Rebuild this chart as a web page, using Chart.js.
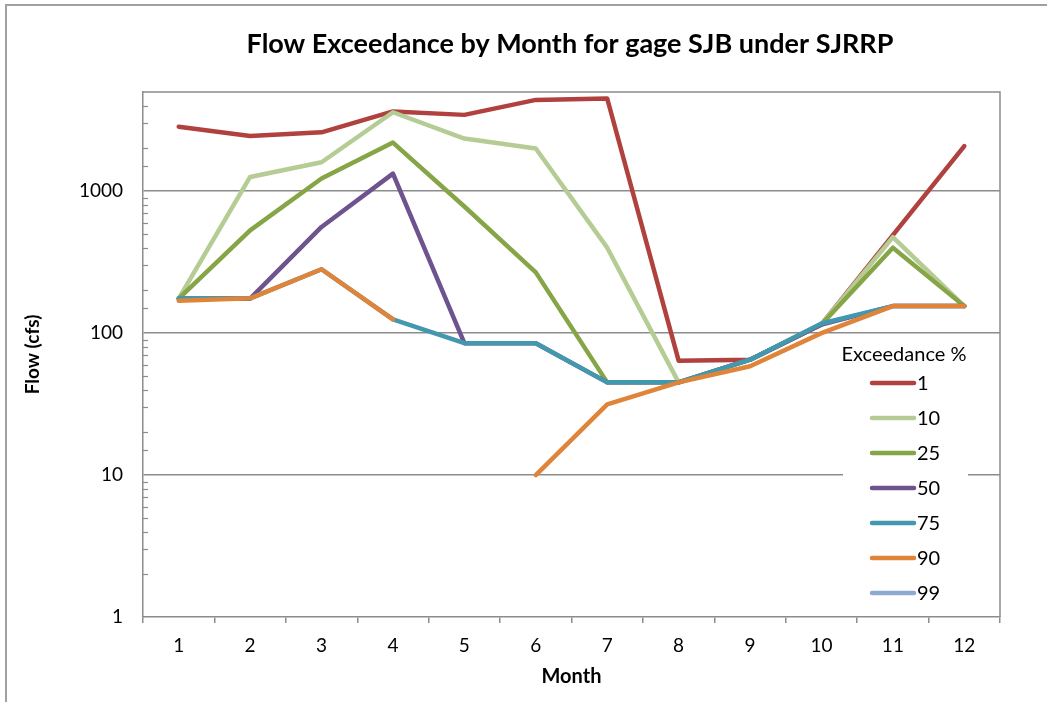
<!DOCTYPE html>
<html>
<head>
<meta charset="utf-8">
<script src="https://cdn.jsdelivr.net/npm/chart.js@4"></script>
<style>
  html, body { margin: 0; padding: 0; background: #ffffff; overflow: hidden; }
  #frame { position: absolute; left: 5px; top: 4px; width: 1200px; height: 900px;
           border-top: 2px solid #a0a0a0; border-left: 2px solid #a0a0a0; }
  #c { position: absolute; left: 0; top: 0; }
</style>
</head>
<body>
<div id="frame"></div>
<canvas id="c" width="1047" height="702"></canvas>
<script>
// ---- data ----
const months = ['1','2','3','4','5','6','7','8','9','10','11','12'];
const seriesNames = ['1','10','25','50','75','90','99'];
const exc1  = [2850, 2450, 2600, 3650, 3450, 4400, 4500, 64, 65, 115, 490, 2080];
const exc10 = [175, 1260, 1600, 3600, 2350, 2000, 400, 45, 65, 115, 475, 155];
const exc25 = [175, 530, 1230, 2200, 780, 268, 45, 45, 65, 115, 400, 155];
const exc50 = [175, 175, 560, 1330, 85, 85, 45, 45, 65, 115, 155, 155];
const exc75 = [176, 176, 282, 125, 85, 85, 45, 45, 65, 117, 155, 155];
const exc90 = [169, 176, 282, 125, null, 10, 31.5, 45, 58.5, 100, 155, 155];
const exc99 = [null, null, null, null, null, null, null, null, null, null, null, null];
const yTickLabels = [1, 10, 100, 1000];

const colors = ['#B0413E', '#B5CC95', '#86A546', '#6E538F', '#4298AF', '#E0843A', '#8FAAD0'];
const allSeries = [exc1, exc10, exc25, exc50, exc75, exc90, exc99];

const FONT = 'Lato, "Open Sans", "DejaVu Sans", sans-serif';
const GRID = '#8c8c8c';

const datasets = allSeries.map((d, i) => ({
  label: seriesNames[i],
  data: d,
  order: -i,               // later series drawn on top, as in the reference
  borderColor: colors[i],
  backgroundColor: colors[i],
  borderWidth: 4.5,
  pointRadius: 0,
  pointHoverRadius: 0,
  tension: 0,
  spanGaps: false,
  borderCapStyle: 'round',
  borderJoinStyle: 'round',
  fill: false
}));

// plot frame, inner minor ticks, title nudging
const framePlugin = {
  id: 'framePlugin',
  afterLayout(chart) {
    const t = chart.titleBlock;
    if (t) { t.left = 93; t.right = 1047; }
  },
  beforeDatasetsDraw(chart) {
    const { ctx, chartArea: a } = chart;
    const ys = chart.scales.y;
    ctx.save();
    ctx.strokeStyle = GRID;
    ctx.lineWidth = 1.5;
    ctx.beginPath();
    ctx.moveTo(a.left, a.top); ctx.lineTo(a.right, a.top); ctx.lineTo(a.right, a.bottom);
    ctx.stroke();
    ctx.lineWidth = 1.2;
    ys.ticks.forEach(tk => {
      const v = tk.value;
      if (yTickLabels.includes(v) || v >= ys.max) return;
      const py = Math.round(ys.getPixelForValue(v)) + 0.5;
      ctx.beginPath(); ctx.moveTo(a.left, py); ctx.lineTo(a.left + 5, py); ctx.stroke();
    });
    ctx.restore();
  }
};

// legend drawn inside the plot area
const legendPlugin = {
  id: 'insideLegend',
  afterDraw(chart) {
    const { ctx } = chart;
    ctx.save();
    ctx.fillStyle = '#ffffff';
    ctx.fillRect(843, 340, 125, 268);
    ctx.fillStyle = '#000000';
    ctx.font = '20px ' + FONT;
    ctx.textAlign = 'center';
    ctx.textBaseline = 'middle';
    ctx.fillText('Exceedance %', 904, 355);
    ctx.textAlign = 'left';
    chart.data.datasets.forEach((ds, i) => {
      const y = 383 + i * 35;
      ctx.strokeStyle = ds.borderColor;
      ctx.lineWidth = 4.5;
      ctx.lineCap = 'round';
      ctx.beginPath(); ctx.moveTo(872, y); ctx.lineTo(914, y); ctx.stroke();
      ctx.fillStyle = '#000000';
      ctx.fillText(ds.label, 917, y + 1);
    });
    ctx.restore();
  }
};

new Chart(document.getElementById('c'), {
  type: 'line',
  data: { labels: months, datasets },
  options: {
    responsive: false,
    animation: false,
    devicePixelRatio: 1,
    layout: { padding: { left: 0, right: 47, top: 0, bottom: 0 } },
    plugins: {
      legend: { display: false },
      tooltip: { enabled: false },
      title: {
        display: true,
        text: 'Flow Exceedance by Month for gage SJB under SJRRP',
        color: '#000000',
        font: { family: FONT, size: 27, weight: 'bold' },
        padding: { top: 28, bottom: 31.6 }
      }
    },
    scales: {
      x: {
        type: 'category',
        offset: true,
        afterFit(s) { s.height = 85; },
        grid: { display: true, offset: true, drawOnChartArea: false, drawTicks: true,
                tickLength: 6, color: GRID, lineWidth: 1.5 },
        border: { display: true, color: GRID, width: 1.5 },
        ticks: { color: '#000000', font: { family: FONT, size: 19 }, padding: 11,
                 maxRotation: 0, autoSkip: false },
        title: { display: true, text: 'Month', color: '#000000',
                 font: { family: FONT, size: 20, weight: 'bold' }, padding: { top: 0, bottom: 13 } }
      },
      y: {
        type: 'logarithmic',
        min: 1,
        max: 5000,
        afterFit(s) { s.width = 143; },
        grid: {
          drawTicks: false,
          lineWidth: 1.5,
          color: (c) => (c.tick && [10, 100, 1000].includes(c.tick.value)) ? GRID : 'rgba(0,0,0,0)'
        },
        border: { display: true, color: GRID, width: 1.5 },
        ticks: {
          autoSkip: false,
          color: '#000000',
          font: { family: FONT, size: 19 },
          padding: 20,
          callback: (v) => yTickLabels.includes(v) ? String(v) : ''
        },
        title: { display: true, text: 'Flow (cfs)', color: '#000000',
                 font: { family: FONT, size: 19, weight: 'bold' }, padding: { top: 21, bottom: 0 } }
      }
    }
  },
  plugins: [framePlugin, legendPlugin]
});
</script>
</body>
</html>
